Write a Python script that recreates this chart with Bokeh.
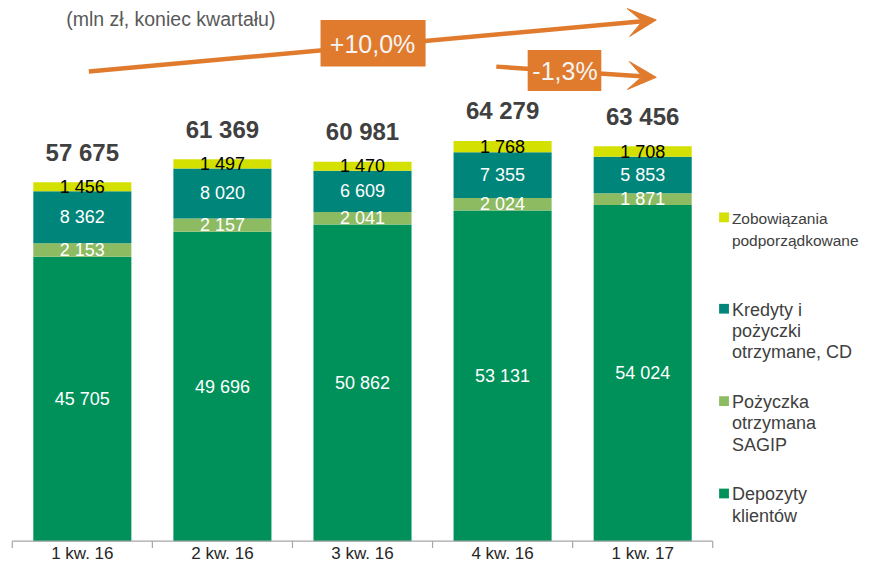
from bokeh.plotting import figure
from bokeh.models import ColumnDataSource, Range1d, Arrow, VeeHead
from bokeh.core.properties import value
from bokeh.embed import file_html
from bokeh.resources import INLINE

# ---------------- data ----------------
quarters = ["1 kw. 16", "2 kw. 16", "3 kw. 16", "4 kw. 16", "1 kw. 17"]
depozyty = [45705, 49696, 50862, 53131, 54024]
sagip = [2153, 2157, 2041, 2024, 1871]
kredyty = [8362, 8020, 6609, 7355, 5853]
zobowiazania = [1456, 1497, 1470, 1768, 1708]
totals = [57675, 61369, 60981, 64279, 63456]
series_names = ["Depozyty\nklientów", "Pożyczka\notrzymana\nSAGIP",
                "Kredyty i\npożyczki\notrzymane, CD", "Zobowiązania\npodporządkowane"]
series_colors = ["#00915A", "#8DBB62", "#00857A", "#D3E000"]
growth_yoy = "+10,0%"
growth_qoq = "-1,3%"
subtitle = "(mln zł, koniec kwartału)"

FONT = "Liberation Sans"

W, H = 859, 563
REF_W, REF_H = 875, 579
BASE = 556            # baseline in reference layout px
S = 0.0064            # px per unit (reference layout)
CAT = 142.7           # px per category (reference layout)
X0 = 12               # left edge of category axis (reference layout)


def dx(px):   # reference layout x -> data x
    return (px - X0) / CAT


def dy(py):   # reference layout y -> data y
    return (BASE - py) / S


def fmt(v):
    return f"{v:,}".replace(",", " ")


p = figure(width=W, height=H, output_backend="svg", toolbar_location=None,
           x_range=Range1d(dx(0), dx(REF_W)),
           y_range=Range1d(dy(REF_H), dy(0)),
           min_border=0, outline_line_color=None)
p.axis.visible = False
p.grid.visible = False
p.background_fill_color = "white"

xs = [i + 0.5 for i in range(len(quarters))]
stack_keys = ["dep", "sag", "kre", "zob"]
src = ColumnDataSource(dict(x=xs, dep=depozyty, sag=sagip, kre=kredyty, zob=zobowiazania))
p.vbar_stack(stack_keys, x="x", width=0.70, source=src, color=series_colors,
             line_color=None)

# segment labels
series_vals = [depozyty, sagip, kredyty, zobowiazania]
label_colors = ["white", "white", "white", "black"]
bottoms = [0] * len(quarters)
for vals, col in zip(series_vals, label_colors):
    ys = [b + v / 2 for b, v in zip(bottoms, vals)]
    lsrc = ColumnDataSource(dict(x=xs, y=ys, t=[fmt(v) for v in vals]))
    p.text(x="x", y="y", text="t", source=lsrc, text_align="center",
           text_baseline="middle", text_color=col, text_font=value(FONT),
           text_font_size="18px")
    bottoms = [b + v for b, v in zip(bottoms, vals)]

# totals
tsrc = ColumnDataSource(dict(x=xs, y=[t + 31 / S for t in totals], t=[fmt(t) for t in totals]))
p.text(x="x", y="y", text="t", source=tsrc, text_align="center", text_baseline="middle",
       text_color="#404040", text_font=value(FONT), text_font_size="24px",
       text_font_style="bold")

# category axis
n = len(quarters)
p.segment(x0=[0], y0=[0], x1=[n], y1=[0], line_color="#A6A6A6", line_width=1.2)
p.segment(x0=list(range(n + 1)), y0=[0] * (n + 1),
          x1=list(range(n + 1)), y1=[-7 / S] * (n + 1),
          line_color="#A6A6A6", line_width=1.2)
qsrc = ColumnDataSource(dict(x=xs, y=[dy(569)] * n, t=quarters))
p.text(x="x", y="y", text="t", source=qsrc, text_align="center", text_baseline="middle",
       text_color="#262626", text_font=value(FONT), text_font_size="17px")

# subtitle
p.text(x=[dx(67)], y=[dy(19)], text=[subtitle], text_align="left", text_baseline="middle",
       text_color="#595959", text_font=value(FONT), text_font_size="19.5px")

# growth arrows
ORANGE = "#E07B2E"
a1 = Arrow(x_start=dx(90), y_start=dy(73), x_end=dx(668), y_end=dy(20),
           line_color=ORANGE, line_width=4.5, level="underlay",
           end=VeeHead(size=28, fill_color=ORANGE, line_color=ORANGE, line_width=1))
a2 = Arrow(x_start=dx(505), y_start=dy(68), x_end=dx(668), y_end=dy(79),
           line_color=ORANGE, line_width=4.5, level="underlay",
           end=VeeHead(size=28, fill_color=ORANGE, line_color=ORANGE, line_width=1))
p.add_layout(a1)
p.add_layout(a2)
p.quad(left=[dx(326), dx(537)], right=[dx(433), dx(612)],
       top=[dy(20), dy(51)], bottom=[dy(68), dy(93)], color=ORANGE, line_color=None)
p.text(x=[dx(379), dx(575)], y=[dy(45), dy(73)], text=[growth_yoy, growth_qoq],
       text_align="center", text_baseline="middle", text_color="#F4F4F4",
       text_font=value(FONT), text_font_size="25px")

# legend
leg_y = [508, 413, 318, 224]
for name, col, y0 in zip(series_names, series_colors, leg_y):
    small = name.startswith("Zobow")
    p.rect(x=[dx(737)], y=[dy(y0 - 1)], width=10 / CAT, height=10 / S, color=col,
           line_color=None)
    size = "15.5px" if small else "18px"
    step = 23 if small else 22
    for k, line in enumerate(name.split("\n")):
        p.text(x=[dx(745)], y=[dy(y0 + k * step)], text=[line], text_align="left",
               text_baseline="middle", text_color="#404040", text_font=value(FONT),
               text_font_size=size)

open("out.html", "w").write(file_html(p, INLINE))
